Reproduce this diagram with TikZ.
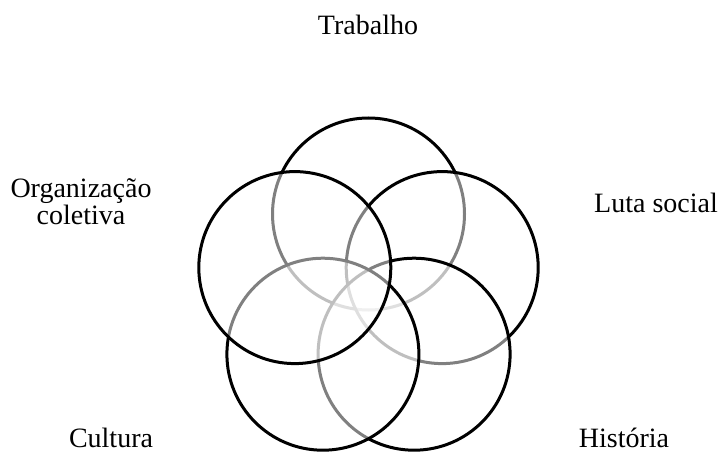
\documentclass[tikz,border=0pt]{standalone}
\usepackage{fontspec}
\setmainfont{Liberation Serif}
\begin{document}
\begin{tikzpicture}[x=1pt,y=-1pt,
  ring/.style={circle, draw=black, line width=3pt, fill=white, fill opacity=0.5, draw opacity=1, minimum size=192pt, inner sep=0pt},
  lbl/.style={font=\fontsize{28}{27}\selectfont, inner sep=0pt, anchor=base, align=center}]
\useasboundingbox (0,0) rectangle (722,454);
\node[ring] (trab) at (368.5,214) {};
\node[ring] (luta) at (442.2,267.6) {};
\node[ring] (hist) at (414.1,354.2) {};
\node[ring] (cult) at (322.9,354.2) {};
\node[ring] (org)  at (294.8,267.6) {};
\node[lbl] (ltrab) at (368,35) {Trabalho};
\node[lbl] (lluta) at (656,213) {Luta social};
\node[lbl] (lorg)  at (81,225) {Organização\\coletiva};
\node[lbl] (lcult) at (111,447) {Cultura};
\node[lbl] (lhist) at (624,447) {História};
\end{tikzpicture}
\end{document}
